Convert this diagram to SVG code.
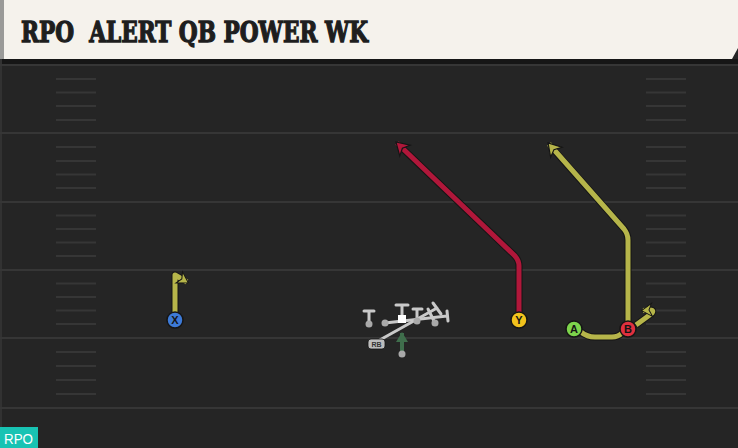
<svg xmlns="http://www.w3.org/2000/svg" width="738" height="448" viewBox="0 0 738 448">
<defs>
<style>
.yard{stroke:#363636;stroke-width:2}
.hash{stroke:#363636;stroke-width:2}
.out{fill:none;stroke:#151515;stroke-width:7;stroke-linejoin:round;stroke-linecap:butt}
.red{fill:none;stroke:#b0173a;stroke-width:5;stroke-linejoin:round}
.olive{fill:none;stroke:#b6b54a;stroke-width:5;stroke-linejoin:round}
.blk{fill:none;stroke:#c9c9c9;stroke-width:3;stroke-linecap:round;stroke-linejoin:round}
.dot{fill:#a9a9a9}
.pc{stroke:#151515;stroke-width:1.5}
.lbl{font-family:"Liberation Sans",Arial,sans-serif;font-weight:bold;font-size:11px;fill:#151515;text-anchor:middle}
</style>
<marker id="arRed" viewBox="-14 -10 17 20" refX="0" refY="0" markerWidth="17" markerHeight="20" markerUnits="userSpaceOnUse" orient="auto">
<path d="M1.5,0 L-11,-7.5 L-7.5,0 L-11,7.5 Z" fill="#b0173a" stroke="#151515" stroke-width="1.2" stroke-linejoin="miter"/>
</marker>
<marker id="arOlive" viewBox="-14 -10 17 20" refX="0" refY="0" markerWidth="17" markerHeight="20" markerUnits="userSpaceOnUse" orient="auto">
<path d="M1.5,0 L-11,-7.5 L-7.5,0 L-11,7.5 Z" fill="#b6b54a" stroke="#151515" stroke-width="1.2" stroke-linejoin="miter"/>
</marker>
<marker id="arOliveS" viewBox="-12 -9 14 18" refX="0" refY="0" markerWidth="14" markerHeight="18" markerUnits="userSpaceOnUse" orient="auto">
<path d="M1.5,0 L-9,-6.5 L-6,0 L-9,6.5 Z" fill="#b6b54a" stroke="#151515" stroke-width="1" stroke-linejoin="miter"/>
</marker>
<marker id="arGreen" viewBox="-12 -8 14 16" refX="0" refY="0" markerWidth="14" markerHeight="16" markerUnits="userSpaceOnUse" orient="auto">
<path d="M1,0 L-9,-6 L-9,6 Z" fill="#3f6e4c"/>
</marker>
</defs>

<!-- field -->
<rect x="0" y="0" width="738" height="448" fill="#252525"/>
<rect x="0" y="59" width="738" height="5" fill="#161616"/>
<rect x="0" y="59" width="2" height="389" fill="#323232"/>
<g id="yardlines">
<line class="yard" x1="0" y1="65" x2="738" y2="65"/>
<line class="yard" x1="0" y1="133" x2="738" y2="133"/>
<line class="yard" x1="0" y1="202" x2="738" y2="202"/>
<line class="yard" x1="0" y1="270" x2="738" y2="270"/>
<line class="yard" x1="0" y1="338" x2="738" y2="338"/>
<line class="yard" x1="0" y1="408" x2="738" y2="408"/>
</g>
<g id="hashes">
<path class="hash" d="M56,79H96M56,92.5H96M56,106H96M56,120H96M56,147H96M56,161H96M56,174.5H96M56,188H96M56,215.5H96M56,229H96M56,242.5H96M56,256H96M56,283.5H96M56,297H96M56,310.5H96M56,324H96M56,352H96M56,366H96M56,380H96M56,394H96"/>
<path class="hash" d="M646,79H686M646,92.5H686M646,106H686M646,120H686M646,147H686M646,161H686M646,174.5H686M646,188H686M646,215.5H686M646,229H686M646,242.5H686M646,256H686M646,283.5H686M646,297H686M646,310.5H686M646,324H686M646,352H686M646,366H686M646,380H686M646,394H686"/>
</g>

<!-- header -->
<g id="header">
<polygon points="0,0 738,0 738,48 732,59 0,59" fill="#f5f2ec"/>
<rect x="0" y="0" width="4" height="59" fill="#9a9a98"/>
<text x="21" y="42" font-family="'DejaVu Serif','Liberation Serif',serif" font-weight="bold" font-size="27" fill="#1e1e1e" stroke="#1e1e1e" stroke-width="1.3" stroke-linejoin="miter" textLength="347" lengthAdjust="spacingAndGlyphs" xml:space="preserve">RPO  ALERT QB POWER WK</text>
</g>

<!-- connectors -->
<g id="connectors">
<path class="out" d="M175,312 V275 L183,280"/>
<path class="olive" d="M175,312 V275 L187,282" marker-end="url(#arOliveS)"/>

<path class="out" d="M519,312 V266 Q519,260 514,255 L402,148"/>
<path class="red" d="M519,312 V266 Q519,260 514,255 L397,143" marker-end="url(#arRed)"/>

<path class="out" d="M628,321 V240 Q628,234 624,229 L553,149"/>
<path class="olive" d="M628,321 V240 Q628,234 624,229 L549,144" marker-end="url(#arOlive)"/>

<path class="out" d="M581,332 Q587,337 595,337 L612,337 Q618,337 622,333"/>
<path class="olive" d="M581,332 Q587,337 595,337 L612,337 Q618,337 622,333"/>

<path class="out" d="M636,325 L651,314 Q655,310 650,310 L648,310.2"/>
<path class="olive" d="M636,325 L651,314 Q655,310 650,310 L643,310.5" marker-end="url(#arOliveS)"/>

<!-- line blocks -->
<path class="blk" d="M385,323 L447,316 M447,311 L448,321"/>
<path class="blk" d="M378,341 L437,308 M433,303 L441,314"/>
<path class="blk" d="M369,324 V311 M364,311 H374"/>
<path class="blk" d="M402,315 V305 M396,305 H408"/>
<path class="blk" d="M417,321 V309 M413,309 H422"/>
<path class="blk" d="M435,323 L428,309"/>
<line x1="402" y1="353" x2="402" y2="333" stroke="#3f6e4c" stroke-width="4" marker-end="url(#arGreen)"/>
</g>

<!-- nodes -->
<g id="ol">
<circle class="dot" cx="369" cy="324" r="3.5"/>
<circle class="dot" cx="385" cy="323" r="3.5"/>
<rect x="398" y="315" width="8" height="8" fill="#ffffff"/>
<circle class="dot" cx="417" cy="321" r="3.5"/>
<circle class="dot" cx="435" cy="323" r="3.5"/>
</g>
<g id="qb">
<circle class="dot" cx="402" cy="354" r="3.5"/>
</g>
<g id="rb">
<rect x="368" y="339" width="17" height="10" rx="3" fill="#bdbdbd" stroke="#151515" stroke-width="0.8"/>
<text x="376.5" y="347" font-family="'Liberation Sans',Arial,sans-serif" font-weight="bold" font-size="7" fill="#333" text-anchor="middle">RB</text>
</g>
<g id="X">
<circle class="pc" cx="175" cy="320" r="8" fill="#3d7ad6"/>
<text class="lbl" x="175" y="324">X</text>
</g>
<g id="Y">
<circle class="pc" cx="519" cy="320" r="8" fill="#f2c21c"/>
<text class="lbl" x="519" y="324">Y</text>
</g>
<g id="A">
<circle class="pc" cx="574" cy="329" r="8" fill="#7dd44c"/>
<text class="lbl" x="574" y="333">A</text>
</g>
<g id="B">
<circle class="pc" cx="628" cy="329" r="8" fill="#e1303e"/>
<text class="lbl" x="628" y="333">B</text>
</g>

<!-- badge -->
<g id="badge">
<rect x="0" y="427" width="38" height="21" fill="#18c3b3"/>
<text x="4" y="444" font-family="'Liberation Sans',Arial,sans-serif" font-size="15" fill="#ffffff" textLength="29" lengthAdjust="spacingAndGlyphs">RPO</text>
</g>
</svg>
